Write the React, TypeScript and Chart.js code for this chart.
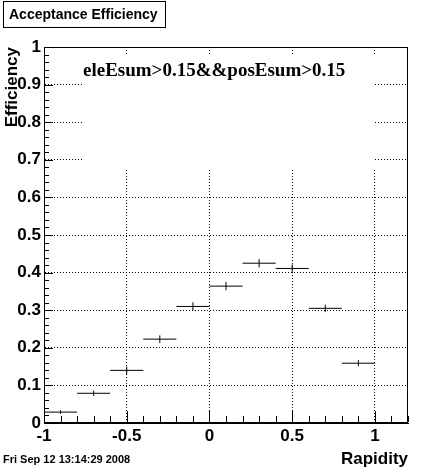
import React, { useEffect, useRef } from 'react';
import { Chart, registerables } from 'chart.js';

Chart.register(...registerables);

// ---- data ----
const binCenters = [-0.9, -0.7, -0.5, -0.3, -0.1, 0.1, 0.3, 0.5, 0.7, 0.9];
const binHalfWidth = 0.1;
const efficiency = [0.029, 0.079, 0.140, 0.223, 0.310, 0.364, 0.425, 0.411, 0.305, 0.159];
const efficiencyError = [0.005, 0.007, 0.010, 0.010, 0.011, 0.011, 0.011, 0.011, 0.010, 0.008];

const xTickValues = [-1, -0.5, 0, 0.5, 1];
const xTickLabels = ['-1', '-0.5', '0', '0.5', '1'];
const yTickValues = [0, 0.1, 0.2, 0.3, 0.4, 0.5, 0.6, 0.7, 0.8, 0.9, 1];
const yTickLabels = ['0', '0.1', '0.2', '0.3', '0.4', '0.5', '0.6', '0.7', '0.8', '0.9', '1'];

const chartTitle = 'Acceptance Efficiency';
const cutLabel = 'eleEsum>0.15&&posEsum>0.15';
const xTitle = 'Rapidity';
const yTitle = 'Efficiency';
const dateStamp = 'Fri Sep 12 13:14:29 2008';

const SANS = '"Liberation Sans", Arial, Helvetica, sans-serif';
const SERIF = '"Liberation Serif", "Times New Roman", serif';

const rootDecor = {
  id: 'rootDecor',
  beforeDatasetsDraw(chart: any) {
    const ctx = chart.ctx;
    ctx.save();
    // white pave behind the cut label (hides grid)
    ctx.fillStyle = '#ffffff';
    ctx.fillRect(82, 54, 293, 114);
    ctx.fillStyle = '#000000';
    ctx.font = `bold 19px ${SERIF}`;
    ctx.textAlign = 'left';
    ctx.textBaseline = 'alphabetic';
    ctx.fillText(cutLabel, 83, 76);
    ctx.restore();
  },
  afterDraw(chart: any) {
    const ctx = chart.ctx;
    const { left, right, top, bottom } = chart.chartArea;
    const xs = chart.scales.x;
    const ys = chart.scales.y;
    ctx.save();
    ctx.strokeStyle = '#000000';
    ctx.lineWidth = 1;
    ctx.setLineDash([]);
    // frame
    ctx.strokeRect(Math.round(left) + 0.5, Math.round(top) + 0.5, Math.round(right - left) - 1, Math.round(bottom - top) - 1);
    // inner ticks
    ctx.beginPath();
    for (let i = 0; i <= 22; i++) {
      const v = -1 + i * 0.1;
      const px = Math.round(xs.getPixelForValue(v)) + 0.5;
      const major = i % 5 === 0;
      const len = major ? 11 : 6;
      const b = Math.round(bottom) - 1;
      ctx.moveTo(px, b);
      ctx.lineTo(px, b - len);
    }
    for (let i = 0; i <= 50; i++) {
      const v = i * 0.02;
      const py = Math.round(ys.getPixelForValue(v)) + 0.5;
      const major = i % 5 === 0;
      const len = major ? 9 : 5;
      const l = Math.round(left);
      ctx.moveTo(l, py);
      ctx.lineTo(l + len, py);
    }
    ctx.stroke();

    // title box
    ctx.fillStyle = '#ffffff';
    ctx.fillRect(3.5, 1.5, 162, 26);
    ctx.strokeRect(3.5, 1.5, 162, 26);
    ctx.fillStyle = '#000000';
    ctx.font = `bold 14px ${SANS}`;
    ctx.textAlign = 'left';
    ctx.textBaseline = 'middle';
    ctx.fillText(chartTitle, 9, 15);

    // date stamp
    ctx.font = `bold 11px ${SANS}`;
    ctx.fillText(dateStamp, 3, 460);
    ctx.restore();
  },
};

export default function App() {
  const canvasRef = useRef<HTMLCanvasElement | null>(null);

  useEffect(() => {
    const canvas = canvasRef.current;
    if (!canvas) return;

    const binLines: any[] = [];
    const errLines: any[] = [];
    binCenters.forEach((c, i) => {
      const v = efficiency[i];
      const e = efficiencyError[i];
      binLines.push({ x: c - binHalfWidth, y: v }, { x: c + binHalfWidth, y: v }, { x: c + binHalfWidth, y: null });
      errLines.push({ x: c, y: v - e }, { x: c, y: v + e }, { x: c, y: null });
    });

    const lineDs = (data: any[]) => ({
      data,
      showLine: true,
      borderColor: '#000000',
      borderWidth: 1,
      pointRadius: 0,
      pointHoverRadius: 0,
      spanGaps: false,
      fill: false,
    });

    const chart = new Chart(canvas, {
      type: 'scatter',
      data: { datasets: [lineDs(binLines), lineDs(errLines)] as any },
      options: {
        responsive: false,
        animation: false,
        events: [],
        devicePixelRatio: 1,
        layout: { padding: { top: 47, right: 38, left: 0, bottom: 0 } },
        plugins: { legend: { display: false }, tooltip: { enabled: false }, title: { display: false } },
        scales: {
          x: {
            type: 'linear',
            position: 'bottom',
            min: -1,
            max: 1.2,
            afterBuildTicks: (s: any) => {
              s.ticks = xTickValues.map((value) => ({ value }));
            },
            afterFit: (s: any) => {
              s.height = 49;
            },
            ticks: {
              autoSkip: false,
              maxRotation: 0,
              padding: 3,
              color: '#000000',
              font: { family: SANS, size: 17, weight: 'bold' },
              callback: (value: any) => xTickLabels[xTickValues.indexOf(Number(value))] ?? '',
            },
            grid: { color: '#000000', lineWidth: 1, drawTicks: false },
            border: { display: true, color: '#000000', width: 1, dash: [1, 2] },
            title: {
              display: true,
              text: xTitle,
              align: 'end',
              color: '#000000',
              font: { family: SANS, size: 17, weight: 'bold' },
              padding: { top: 0, bottom: 2 },
            },
          },
          y: {
            type: 'linear',
            position: 'left',
            min: 0,
            max: 1,
            afterBuildTicks: (s: any) => {
              s.ticks = yTickValues.map((value) => ({ value }));
            },
            afterFit: (s: any) => {
              s.width = 44;
            },
            ticks: {
              autoSkip: false,
              padding: 3,
              color: '#000000',
              font: { family: SANS, size: 17, weight: 'bold' },
              callback: (value: any) => {
                const idx = yTickValues.findIndex((t) => Math.abs(t - Number(value)) < 1e-9);
                return idx >= 0 ? yTickLabels[idx] : '';
              },
            },
            grid: { color: '#000000', lineWidth: 1, drawTicks: false },
            border: { display: true, color: '#000000', width: 1, dash: [1, 2] },
            title: {
              display: true,
              text: yTitle,
              align: 'end',
              color: '#000000',
              font: { family: SANS, size: 17, weight: 'bold' },
              padding: { top: 2, bottom: 0 },
            },
          },
        },
      } as any,
      plugins: [rootDecor],
    });

    return () => {
      chart.destroy();
    };
  }, []);

  return (
    <div style={{ position: 'absolute', left: 0, top: 0, width: 446, height: 472, background: '#ffffff' }}>
      <canvas ref={canvasRef} width={446} height={472} style={{ display: 'block', width: 446, height: 472 }} />
    </div>
  );
}
